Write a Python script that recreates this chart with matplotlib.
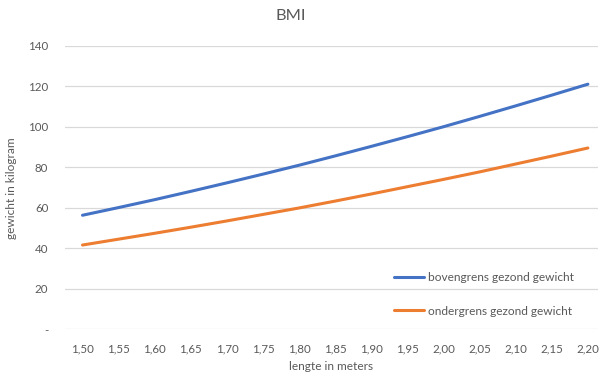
import matplotlib
matplotlib.use("Agg")
import matplotlib.pyplot as plt

# data
lengte = ["1,50", "1,55", "1,60", "1,65", "1,70", "1,75", "1,80", "1,85",
          "1,90", "1,95", "2,00", "2,05", "2,10", "2,15", "2,20"]
boven = [56.3, 60.1, 64.0, 68.1, 72.3, 76.6, 81.0, 85.6,
         90.3, 95.1, 100.0, 105.1, 110.3, 115.6, 121.0]
onder = [41.6, 44.5, 47.4, 50.4, 53.5, 56.7, 59.9, 63.3,
         66.8, 70.4, 74.0, 77.7, 81.6, 85.5, 89.5]
yticks = [0, 20, 40, 60, 80, 100, 120, 140]
ylabels = ["-", "20", "40", "60", "80", "100", "120", "140"]

grey = "#595959"
plt.rcParams['font.family'] = ['Lato', 'DejaVu Sans']

fig = plt.figure(figsize=(6, 3.76), dpi=100)
ax = fig.add_axes([65/600, 1 - 329.3/376, (598-65)/600, (329.3-45.7)/376])

x = range(len(lengte))
ax.plot(x, boven, color="#4472C4", lw=2.2, label="bovengrens gezond gewicht",
        solid_capstyle="round")
ax.plot(x, onder, color="#ED7D31", lw=2.2, label="ondergrens gezond gewicht",
        solid_capstyle="round")

ax.set_xlim(-0.485, 14.28)
ax.set_ylim(0, 140)
ax.set_xticks(list(x))
ax.set_xticklabels(lengte)
ax.set_yticks(yticks)
ax.set_yticklabels(ylabels)
ax.tick_params(length=0, labelsize=8.3, colors=grey, pad=10)
ax.tick_params(axis="y", pad=12)
ax.grid(axis="y", color="#D9D9D9", lw=0.9)
ax.set_axisbelow(True)
for s in ax.spines.values():
    s.set_visible(False)

fig.text(291/600, 1 - 16/376, "BMI", ha="center", va="center", fontsize=11.8, color=grey)
fig.text(12/600, 1 - 188/376, "gewicht in kilogram", ha="center", va="center",
         rotation=90, fontsize=8.6, color=grey)
fig.text(331/600, 1 - 367/376, "lengte in meters", ha="center", va="center",
         fontsize=8.6, color=grey)

ax.legend(loc="upper left", bbox_to_anchor=(388/600, 1 - 266/376),
          bbox_transform=fig.transFigure, frameon=False, fontsize=8.6,
          labelcolor=grey, handlelength=2.5, handletextpad=0.35,
          labelspacing=1.9, borderpad=0)

fig.savefig("out.png", dpi=100)
